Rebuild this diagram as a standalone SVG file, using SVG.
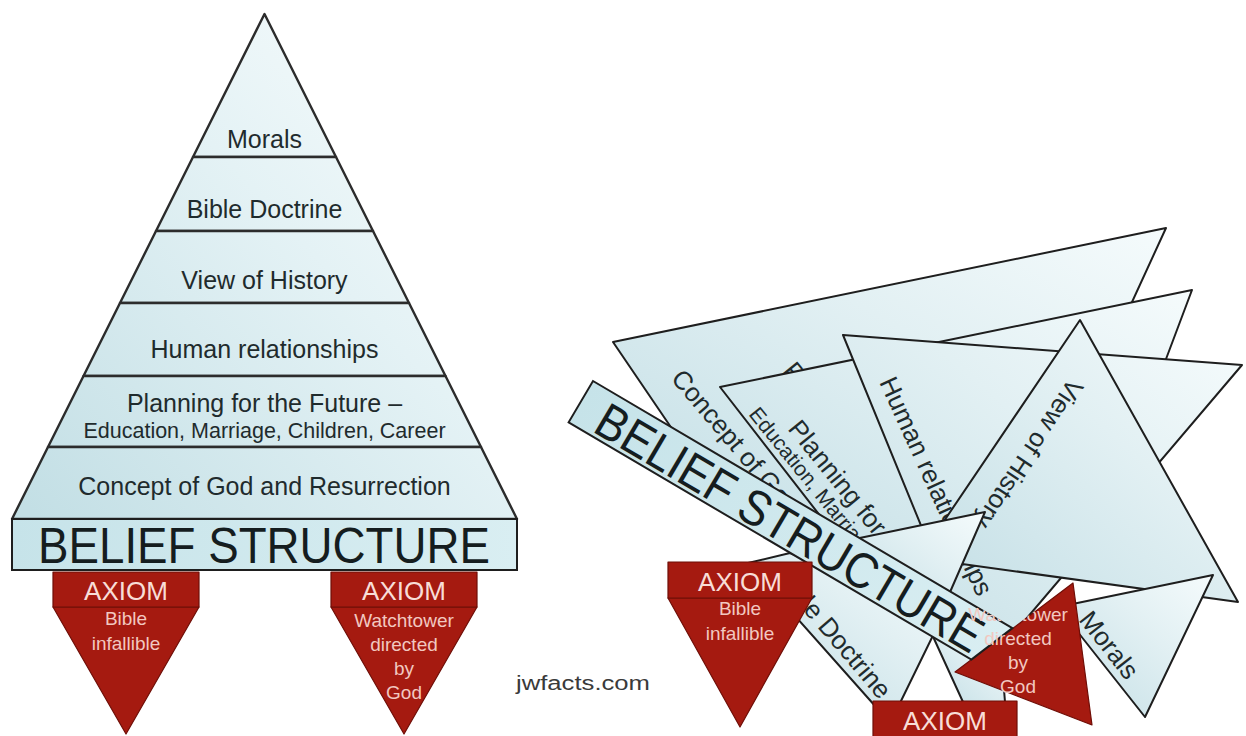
<svg xmlns="http://www.w3.org/2000/svg" width="1246" height="736" viewBox="0 0 1246 736">
<defs>
<linearGradient id="lbL" gradientUnits="userSpaceOnUse" x1="40" y1="520" x2="470" y2="120">
<stop offset="0" stop-color="#c3dfe5"/><stop offset="0.65" stop-color="#e4f2f5"/><stop offset="1" stop-color="#f4fafb"/>
</linearGradient>
<linearGradient id="lb" x1="0" y1="1" x2="1" y2="0">
<stop offset="0" stop-color="#c2dee5"/><stop offset="0.6" stop-color="#e2f0f3"/><stop offset="1" stop-color="#f5fbfc"/>
</linearGradient>
<linearGradient id="lbBox" x1="0" y1="0" x2="1" y2="0">
<stop offset="0" stop-color="#c6e3e9"/><stop offset="1" stop-color="#d9eef2"/>
</linearGradient>
<clipPath id="cA"><polygon points="613,342 1166,228 1110,350 830,540 700,470"/></clipPath>
<clipPath id="cC"><polygon points="720,387 1192,290 1160,375 1000,500 950,560 870,580"/></clipPath>
<clipPath id="cD"><polygon points="843,335 1242,365 981,672"/></clipPath>
<clipPath id="cV"><polygon points="1080,320 1238,602 919,558"/></clipPath>
<clipPath id="cM"><polygon points="1058,607 1213,575 1145,717"/></clipPath>
<clipPath id="cG"><polygon points="748,563 790,553 943,615 900,703 876,707"/></clipPath>
<clipPath id="cW"><polygon points="1073,583 1013,627 950,590 950,760 1150,760 1150,560 1073,560"/></clipPath>
</defs>
<style>
.band{fill:url(#lbL);stroke:#2c2c2c;stroke-width:2.4;stroke-linejoin:round}
.pc{fill:url(#lb);stroke:#1e1e1e;stroke-width:2;stroke-linejoin:round}
.box{fill:url(#lbBox);stroke:#1e1e1e;stroke-width:2}
.red{fill:#a51a10;stroke:#6f0e07;stroke-width:1.2;stroke-linejoin:round}
.t{font-family:"Liberation Sans",Arial,Helvetica,sans-serif}
.lbl{fill:#1f2b2d;font-size:25px}
.rl{fill:#1f2b2d;font-size:26px}
.sub{fill:#1f2b2d;font-size:21.5px}
.big{fill:#151d1f;font-size:50px}
.ax{fill:#f8ddd7;font-size:26px}
.axs{fill:#f2c8c0;font-size:19px}
</style>

<!-- LEFT PYRAMID -->
<g id="band-morals"><polygon class="band" points="264.5,14 336,157 193,157"/>
<text class="t lbl" x="264.5" y="148" text-anchor="middle">Morals</text></g>
<g id="band-doctrine"><polygon class="band" points="193,157 336,157 373,231 156,231"/>
<text class="t lbl" x="264.5" y="218" text-anchor="middle">Bible Doctrine</text></g>
<g id="band-history"><polygon class="band" points="156,231 373,231 409,303 120,303"/>
<text class="t lbl" x="264.5" y="289" text-anchor="middle">View of History</text></g>
<g id="band-human"><polygon class="band" points="120,303 409,303 445.5,376 83.5,376"/>
<text class="t lbl" x="264.5" y="358" text-anchor="middle">Human relationships</text></g>
<g id="band-planning"><polygon class="band" points="83.5,376 445.5,376 481,447 48,447"/>
<text class="t lbl" x="264.5" y="412" text-anchor="middle">Planning for the Future –</text>
<text class="t sub" x="264.5" y="438" text-anchor="middle">Education, Marriage, Children, Career</text></g>
<g id="band-concept"><polygon class="band" points="48,447 481,447 517,519 12,519"/>
<text class="t lbl" x="264.5" y="495" text-anchor="middle">Concept of God and Resurrection</text></g>
<g id="belief-box"><rect class="box" x="12" y="519" width="505" height="51"/>
<text class="t big" x="38" y="563" textLength="452" lengthAdjust="spacingAndGlyphs">BELIEF STRUCTURE</text></g>
<g id="axiom-bible">
<polygon class="red" points="53,607 199,607 126,734"/>
<rect class="red" x="53" y="572" width="146" height="35"/>
<text class="t ax" x="126" y="600" text-anchor="middle">AXIOM</text>
<text class="t axs" x="126" y="625" text-anchor="middle">Bible</text>
<text class="t axs" x="126" y="650" text-anchor="middle">infallible</text></g>
<g id="axiom-watchtower">
<polygon class="red" points="331,607 477,607 404,734"/>
<rect class="red" x="331" y="572" width="146" height="35"/>
<text class="t ax" x="404" y="600" text-anchor="middle">AXIOM</text>
<text class="t axs" x="404" y="627" text-anchor="middle">Watchtower</text>
<text class="t axs" x="404" y="651" text-anchor="middle">directed</text>
<text class="t axs" x="404" y="675" text-anchor="middle">by</text>
<text class="t axs" x="404" y="699" text-anchor="middle">God</text></g>
<text class="t" x="516" y="690" font-size="20" fill="#3a3a3a" textLength="134" lengthAdjust="spacingAndGlyphs">jwfacts.com</text>

<!-- RIGHT: COLLAPSED PIECES -->
<g id="r-concept"><polygon class="pc" points="613,342 1166,228 1110,350 830,540 700,470"/>
<g clip-path="url(#cA)">
<text class="t rl" transform="translate(670,379) rotate(49.5)">Concept of God and Resurrection</text>
<text class="t rl" transform="translate(782,371) rotate(51)">P</text></g></g>
<g id="r-planning"><polygon class="pc" points="720,387 1192,290 1160,375 1000,500 950,560 870,580"/>
<g clip-path="url(#cC)">
<text class="t rl" transform="translate(787,429) rotate(51)">Planning for the Future –</text>
<text class="t" font-size="21" fill="#1f2b2d" transform="translate(748,414.5) rotate(51)">Education, Marriage, Children, Career</text></g></g>
<g id="r-human"><polygon class="pc" points="843,335 1242,365 981,672"/>
<g clip-path="url(#cD)"><text class="t rl" transform="translate(879,382) rotate(65.5)">Human relationships</text></g></g>
<g id="r-history"><polygon class="pc" points="1080,320 1238,602 919,558"/>
<g clip-path="url(#cV)"><text class="t rl" transform="translate(1069.6,377) rotate(123.5)">View of History</text></g></g>
<g id="r-wedge"><polygon class="pc" points="850,540 985,512 940,615 880,600"/></g>
<g id="r-morals"><polygon class="pc" points="1058,607 1213,575 1145,717"/>
<g clip-path="url(#cM)"><text class="t rl" font-size="27" transform="translate(1078,620) rotate(51.7)">Morals</text></g></g>
<g id="r-sliver"><polygon class="pc" points="930,630 963,702 1005,702 1000,640"/></g>
<g id="r-doctrine"><polygon class="pc" points="748,563 790,553 943,615 900,703 876,707"/>
<g clip-path="url(#cG)"><text class="t rl" transform="translate(774.4,577.3) rotate(49.5)">Bible Doctrine</text></g></g>
<g id="r-axiom-watchtower">
<polygon class="red" points="955,672 1073,583 1092,725"/></g>
<g id="r-belief" transform="translate(593,381) rotate(30.5)">
<polygon class="box" points="0,0 486.7,0 467.4,48 0,48"/>
<text class="t big" x="24" y="44" textLength="440" lengthAdjust="spacingAndGlyphs">BELIEF STRUCTURE</text></g>
<g id="r-axiom-watchtower-text" clip-path="url(#cW)">
<text class="t axs" x="1018" y="621" text-anchor="middle">Watchtower</text>
<text class="t axs" x="1018" y="645" text-anchor="middle">directed</text>
<text class="t axs" x="1018" y="669" text-anchor="middle">by</text>
<text class="t axs" x="1018" y="693" text-anchor="middle">God</text></g>
<g id="r-axiom-bible">
<polygon class="red" points="668,598 812,598 740,727"/>
<rect class="red" x="668" y="562" width="144" height="36"/>
<text class="t ax" x="740" y="591" text-anchor="middle">AXIOM</text>
<text class="t axs" x="740" y="615" text-anchor="middle">Bible</text>
<text class="t axs" x="740" y="640" text-anchor="middle">infallible</text></g>
<g id="r-axiom-box">
<rect class="red" x="873" y="701" width="144" height="40"/>
<text class="t ax" x="945" y="730" text-anchor="middle">AXIOM</text></g>
</svg>
